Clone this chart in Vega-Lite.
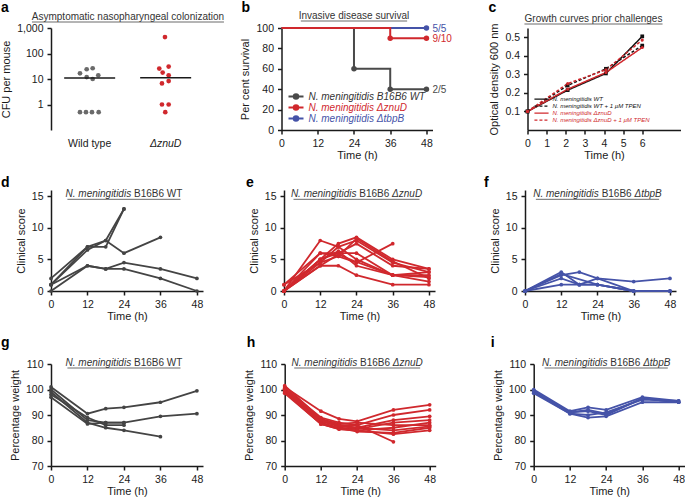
{
"$schema": "https://vega.github.io/schema/vega-lite/v6.json",
"padding": {"left": 0, "top": 1, "right": 2, "bottom": 0},
"config": {
  "font": "Liberation Sans",
  "view": {"stroke": null},
  "axis": {"grid": false, "tickCount": 20, "labelOverlap": false, "labelFlush": false, "domainColor": "#1a1a1a", "tickColor": "#1a1a1a", "domainWidth": 1.5, "tickWidth": 1.5, "tickSize": 4, "labelColor": "#1a1a1a", "titleColor": "#1a1a1a", "labelFontSize": 10.5, "titleFontSize": 11, "titleFontWeight": "normal", "labelPadding": 4},
  "axisX": {"titlePadding": 1},
  "axisY": {"titlePadding": 5},
  "legend": {"labelFontSize": 10}
},
"datasets": {
  "colonization": [
    {"group":"Wild type","cfu":16.7,"jitter":-9.7},
    {"group":"Wild type","cfu":24.1,"jitter":-3},
    {"group":"Wild type","cfu":26.4,"jitter":3},
    {"group":"Wild type","cfu":11.9,"jitter":-3},
    {"group":"Wild type","cfu":10,"jitter":3},
    {"group":"Wild type","cfu":14,"jitter":8.6},
    {"group":"Wild type","cfu":0.5,"jitter":-9.7},
    {"group":"Wild type","cfu":0.5,"jitter":-3.7},
    {"group":"Wild type","cfu":0.5,"jitter":2.3},
    {"group":"Wild type","cfu":0.5,"jitter":9},
    {"group":"ΔznuD","cfu":442,"jitter":-0.7},
    {"group":"ΔznuD","cfu":30.8,"jitter":3},
    {"group":"ΔznuD","cfu":25.7,"jitter":-6.4},
    {"group":"ΔznuD","cfu":17.8,"jitter":-3},
    {"group":"ΔznuD","cfu":14,"jitter":3},
    {"group":"ΔznuD","cfu":8.3,"jitter":3},
    {"group":"ΔznuD","cfu":6.7,"jitter":-3.7},
    {"group":"ΔznuD","cfu":1,"jitter":-3.7},
    {"group":"ΔznuD","cfu":1,"jitter":3},
    {"group":"ΔznuD","cfu":0.5,"jitter":-0.4}
  ],
  "survival": [
    {"strain":"N. meningitidis ΔtbpB","time":0,"pct":100},
    {"strain":"N. meningitidis ΔtbpB","time":48,"pct":100,"label":"5/5"},
    {"strain":"N. meningitidis B16B6 WT","time":0,"pct":100},
    {"strain":"N. meningitidis B16B6 WT","time":24,"pct":60},
    {"strain":"N. meningitidis B16B6 WT","time":36,"pct":40},
    {"strain":"N. meningitidis B16B6 WT","time":48,"pct":40,"label":"2/5"},
    {"strain":"N. meningitidis ΔznuD","time":0,"pct":100},
    {"strain":"N. meningitidis ΔznuD","time":36,"pct":90},
    {"strain":"N. meningitidis ΔznuD","time":48,"pct":90,"label":"9/10"}
  ],
  "growth": [
    {"series":"N. meningitidis WT","time":0,"od":0.1},
    {"series":"N. meningitidis WT","time":2.1,"od":0.215},
    {"series":"N. meningitidis WT","time":4.1,"od":0.305},
    {"series":"N. meningitidis WT","time":6.0,"od":0.505},
    {"series":"N. meningitidis WT + 1 µM TPEN","time":0,"od":0.1},
    {"series":"N. meningitidis WT + 1 µM TPEN","time":2.1,"od":0.24},
    {"series":"N. meningitidis WT + 1 µM TPEN","time":4.1,"od":0.33},
    {"series":"N. meningitidis WT + 1 µM TPEN","time":6.0,"od":0.455},
    {"series":"N. meningitidis ΔznuD","time":0,"od":0.1},
    {"series":"N. meningitidis ΔznuD","time":2.1,"od":0.22},
    {"series":"N. meningitidis ΔznuD","time":4.1,"od":0.31},
    {"series":"N. meningitidis ΔznuD","time":6.0,"od":0.445},
    {"series":"N. meningitidis ΔznuD + 1 µM TPEN","time":0,"od":0.1},
    {"series":"N. meningitidis ΔznuD + 1 µM TPEN","time":2.1,"od":0.25},
    {"series":"N. meningitidis ΔznuD + 1 µM TPEN","time":4.1,"od":0.325},
    {"series":"N. meningitidis ΔznuD + 1 µM TPEN","time":6.0,"od":0.485}
  ],
  "clinical": [
    {"strain":"WT","mouse":1,"time":0,"score":2},{"strain":"WT","mouse":1,"time":12,"score":7},{"strain":"WT","mouse":1,"time":18,"score":8},{"strain":"WT","mouse":1,"time":24,"score":13},
    {"strain":"WT","mouse":2,"time":0,"score":1},{"strain":"WT","mouse":2,"time":12,"score":7},{"strain":"WT","mouse":2,"time":18,"score":7},{"strain":"WT","mouse":2,"time":24,"score":13},
    {"strain":"WT","mouse":3,"time":0,"score":1},{"strain":"WT","mouse":3,"time":12,"score":6.5},{"strain":"WT","mouse":3,"time":18,"score":8},{"strain":"WT","mouse":3,"time":24,"score":6},{"strain":"WT","mouse":3,"time":36,"score":8.5},
    {"strain":"WT","mouse":4,"time":0,"score":1},{"strain":"WT","mouse":4,"time":12,"score":4},{"strain":"WT","mouse":4,"time":18,"score":3.5},{"strain":"WT","mouse":4,"time":24,"score":4.5},{"strain":"WT","mouse":4,"time":36,"score":3.5},{"strain":"WT","mouse":4,"time":48,"score":2},
    {"strain":"WT","mouse":5,"time":0,"score":0},{"strain":"WT","mouse":5,"time":12,"score":4},{"strain":"WT","mouse":5,"time":18,"score":3.5},{"strain":"WT","mouse":5,"time":24,"score":3.5},{"strain":"WT","mouse":5,"time":36,"score":2},{"strain":"WT","mouse":5,"time":48,"score":0},
    {"strain":"znuD","mouse":1,"time":0,"score":0},{"strain":"znuD","mouse":1,"time":12,"score":8},{"strain":"znuD","mouse":1,"time":18,"score":7},{"strain":"znuD","mouse":1,"time":24,"score":5},{"strain":"znuD","mouse":1,"time":36,"score":2.5},{"strain":"znuD","mouse":1,"time":48,"score":2.5},
    {"strain":"znuD","mouse":2,"time":0,"score":1},{"strain":"znuD","mouse":2,"time":12,"score":6},{"strain":"znuD","mouse":2,"time":18,"score":6},{"strain":"znuD","mouse":2,"time":24,"score":6},{"strain":"znuD","mouse":2,"time":36,"score":2.5},{"strain":"znuD","mouse":2,"time":48,"score":3},
    {"strain":"znuD","mouse":3,"time":0,"score":0},{"strain":"znuD","mouse":3,"time":12,"score":4},{"strain":"znuD","mouse":3,"time":18,"score":4},{"strain":"znuD","mouse":3,"time":24,"score":2.5},{"strain":"znuD","mouse":3,"time":36,"score":1},{"strain":"znuD","mouse":3,"time":48,"score":1},
    {"strain":"znuD","mouse":4,"time":0,"score":0},{"strain":"znuD","mouse":4,"time":12,"score":5},{"strain":"znuD","mouse":4,"time":18,"score":7.5},{"strain":"znuD","mouse":4,"time":24,"score":8.5},{"strain":"znuD","mouse":4,"time":36,"score":5},{"strain":"znuD","mouse":4,"time":48,"score":3.5},
    {"strain":"znuD","mouse":5,"time":0,"score":0},{"strain":"znuD","mouse":5,"time":12,"score":4.5},{"strain":"znuD","mouse":5,"time":18,"score":7},{"strain":"znuD","mouse":5,"time":24,"score":8},{"strain":"znuD","mouse":5,"time":36,"score":4.5},{"strain":"znuD","mouse":5,"time":48,"score":3},
    {"strain":"znuD","mouse":6,"time":0,"score":0},{"strain":"znuD","mouse":6,"time":12,"score":5},{"strain":"znuD","mouse":6,"time":18,"score":6},{"strain":"znuD","mouse":6,"time":24,"score":7.5},{"strain":"znuD","mouse":6,"time":36,"score":4},{"strain":"znuD","mouse":6,"time":48,"score":3.5},
    {"strain":"znuD","mouse":7,"time":0,"score":1},{"strain":"znuD","mouse":7,"time":12,"score":4.5},{"strain":"znuD","mouse":7,"time":18,"score":5.5},{"strain":"znuD","mouse":7,"time":24,"score":8.3},{"strain":"znuD","mouse":7,"time":36,"score":4.7},{"strain":"znuD","mouse":7,"time":48,"score":2},
    {"strain":"znuD","mouse":8,"time":0,"score":0},{"strain":"znuD","mouse":8,"time":12,"score":6},{"strain":"znuD","mouse":8,"time":18,"score":5.5},{"strain":"znuD","mouse":8,"time":24,"score":4.5},{"strain":"znuD","mouse":8,"time":36,"score":7.5},
    {"strain":"znuD","mouse":9,"time":0,"score":0},{"strain":"znuD","mouse":9,"time":12,"score":5},{"strain":"znuD","mouse":9,"time":18,"score":6.3},{"strain":"znuD","mouse":9,"time":24,"score":4},{"strain":"znuD","mouse":9,"time":36,"score":2.5},{"strain":"znuD","mouse":9,"time":48,"score":1.5},
    {"strain":"znuD","mouse":10,"time":0,"score":0},{"strain":"znuD","mouse":10,"time":12,"score":4},{"strain":"znuD","mouse":10,"time":18,"score":5.8},{"strain":"znuD","mouse":10,"time":24,"score":4.6},{"strain":"znuD","mouse":10,"time":36,"score":2.5},{"strain":"znuD","mouse":10,"time":48,"score":2.2},
    {"strain":"tbpB","mouse":1,"time":0,"score":0},{"strain":"tbpB","mouse":1,"time":12,"score":2.5},{"strain":"tbpB","mouse":1,"time":18,"score":3},{"strain":"tbpB","mouse":1,"time":24,"score":2},{"strain":"tbpB","mouse":1,"time":36,"score":0},{"strain":"tbpB","mouse":1,"time":48,"score":0},
    {"strain":"tbpB","mouse":2,"time":0,"score":0},{"strain":"tbpB","mouse":2,"time":12,"score":3},{"strain":"tbpB","mouse":2,"time":18,"score":1},{"strain":"tbpB","mouse":2,"time":24,"score":2},{"strain":"tbpB","mouse":2,"time":36,"score":1.5},{"strain":"tbpB","mouse":2,"time":48,"score":2},
    {"strain":"tbpB","mouse":3,"time":0,"score":0},{"strain":"tbpB","mouse":3,"time":12,"score":2},{"strain":"tbpB","mouse":3,"time":18,"score":1},{"strain":"tbpB","mouse":3,"time":24,"score":1},{"strain":"tbpB","mouse":3,"time":36,"score":0},{"strain":"tbpB","mouse":3,"time":48,"score":0},
    {"strain":"tbpB","mouse":4,"time":0,"score":0},{"strain":"tbpB","mouse":4,"time":12,"score":1},{"strain":"tbpB","mouse":4,"time":18,"score":1},{"strain":"tbpB","mouse":4,"time":24,"score":1},{"strain":"tbpB","mouse":4,"time":36,"score":0},{"strain":"tbpB","mouse":4,"time":48,"score":0},
    {"strain":"tbpB","mouse":5,"time":0,"score":0},{"strain":"tbpB","mouse":5,"time":12,"score":2.7},{"strain":"tbpB","mouse":5,"time":24,"score":1},{"strain":"tbpB","mouse":5,"time":36,"score":0},{"strain":"tbpB","mouse":5,"time":48,"score":0}
  ],
  "weight": [
    {"strain":"WT","mouse":1,"time":0,"weight":101},{"strain":"WT","mouse":1,"time":12,"weight":90.5},{"strain":"WT","mouse":1,"time":18,"weight":92.5},{"strain":"WT","mouse":1,"time":24,"weight":93},{"strain":"WT","mouse":1,"time":36,"weight":95},{"strain":"WT","mouse":1,"time":48,"weight":99.5},
    {"strain":"WT","mouse":2,"time":0,"weight":100},{"strain":"WT","mouse":2,"time":12,"weight":88},{"strain":"WT","mouse":2,"time":18,"weight":87},{"strain":"WT","mouse":2,"time":24,"weight":87},{"strain":"WT","mouse":2,"time":36,"weight":89.5},{"strain":"WT","mouse":2,"time":48,"weight":90.5},
    {"strain":"WT","mouse":3,"time":0,"weight":99},{"strain":"WT","mouse":3,"time":12,"weight":87},{"strain":"WT","mouse":3,"time":18,"weight":85},{"strain":"WT","mouse":3,"time":24,"weight":84},{"strain":"WT","mouse":3,"time":36,"weight":81.5},
    {"strain":"WT","mouse":4,"time":0,"weight":98},{"strain":"WT","mouse":4,"time":12,"weight":89},{"strain":"WT","mouse":4,"time":18,"weight":86},{"strain":"WT","mouse":4,"time":24,"weight":86},
    {"strain":"WT","mouse":5,"time":0,"weight":97},{"strain":"WT","mouse":5,"time":12,"weight":86.5},{"strain":"WT","mouse":5,"time":18,"weight":87},{"strain":"WT","mouse":5,"time":24,"weight":87},
    {"strain":"znuD","mouse":1,"time":0,"weight":101},{"strain":"znuD","mouse":1,"time":12,"weight":91.5},{"strain":"znuD","mouse":1,"time":18,"weight":88.5},{"strain":"znuD","mouse":1,"time":24,"weight":87.5},{"strain":"znuD","mouse":1,"time":36,"weight":92},{"strain":"znuD","mouse":1,"time":48,"weight":94},
    {"strain":"znuD","mouse":2,"time":0,"weight":100.5},{"strain":"znuD","mouse":2,"time":12,"weight":89},{"strain":"znuD","mouse":2,"time":18,"weight":87},{"strain":"znuD","mouse":2,"time":24,"weight":86},{"strain":"znuD","mouse":2,"time":36,"weight":90},{"strain":"znuD","mouse":2,"time":48,"weight":92},
    {"strain":"znuD","mouse":3,"time":0,"weight":100},{"strain":"znuD","mouse":3,"time":12,"weight":88},{"strain":"znuD","mouse":3,"time":18,"weight":86},{"strain":"znuD","mouse":3,"time":24,"weight":85},{"strain":"znuD","mouse":3,"time":36,"weight":88},{"strain":"znuD","mouse":3,"time":48,"weight":89.5},
    {"strain":"znuD","mouse":4,"time":0,"weight":99.5},{"strain":"znuD","mouse":4,"time":12,"weight":87},{"strain":"znuD","mouse":4,"time":18,"weight":85},{"strain":"znuD","mouse":4,"time":24,"weight":84.5},{"strain":"znuD","mouse":4,"time":36,"weight":87},{"strain":"znuD","mouse":4,"time":48,"weight":88},
    {"strain":"znuD","mouse":5,"time":0,"weight":99},{"strain":"znuD","mouse":5,"time":12,"weight":86.5},{"strain":"znuD","mouse":5,"time":18,"weight":84.5},{"strain":"znuD","mouse":5,"time":24,"weight":84},{"strain":"znuD","mouse":5,"time":36,"weight":85},{"strain":"znuD","mouse":5,"time":48,"weight":87},
    {"strain":"znuD","mouse":6,"time":0,"weight":101.5},{"strain":"znuD","mouse":6,"time":12,"weight":88.5},{"strain":"znuD","mouse":6,"time":18,"weight":86.5},{"strain":"znuD","mouse":6,"time":24,"weight":87},{"strain":"znuD","mouse":6,"time":36,"weight":86},{"strain":"znuD","mouse":6,"time":48,"weight":86},
    {"strain":"znuD","mouse":7,"time":0,"weight":100},{"strain":"znuD","mouse":7,"time":12,"weight":87.5},{"strain":"znuD","mouse":7,"time":18,"weight":85.5},{"strain":"znuD","mouse":7,"time":24,"weight":85},{"strain":"znuD","mouse":7,"time":36,"weight":84},{"strain":"znuD","mouse":7,"time":48,"weight":85.5},
    {"strain":"znuD","mouse":8,"time":0,"weight":99},{"strain":"znuD","mouse":8,"time":12,"weight":86.5},{"strain":"znuD","mouse":8,"time":18,"weight":85},{"strain":"znuD","mouse":8,"time":24,"weight":83.5},{"strain":"znuD","mouse":8,"time":36,"weight":83},{"strain":"znuD","mouse":8,"time":48,"weight":85},
    {"strain":"znuD","mouse":9,"time":0,"weight":98.5},{"strain":"znuD","mouse":9,"time":12,"weight":86.5},{"strain":"znuD","mouse":9,"time":18,"weight":84.5},{"strain":"znuD","mouse":9,"time":24,"weight":84},{"strain":"znuD","mouse":9,"time":36,"weight":82.5},{"strain":"znuD","mouse":9,"time":48,"weight":84},
    {"strain":"znuD","mouse":10,"time":0,"weight":100},{"strain":"znuD","mouse":10,"time":12,"weight":88},{"strain":"znuD","mouse":10,"time":18,"weight":86},{"strain":"znuD","mouse":10,"time":24,"weight":86},{"strain":"znuD","mouse":10,"time":36,"weight":79.5},
    {"strain":"tbpB","mouse":1,"time":0,"weight":100},{"strain":"tbpB","mouse":1,"time":12,"weight":91.5},{"strain":"tbpB","mouse":1,"time":18,"weight":93},{"strain":"tbpB","mouse":1,"time":24,"weight":92},{"strain":"tbpB","mouse":1,"time":36,"weight":97},{"strain":"tbpB","mouse":1,"time":48,"weight":95.5},
    {"strain":"tbpB","mouse":2,"time":0,"weight":99.5},{"strain":"tbpB","mouse":2,"time":12,"weight":91},{"strain":"tbpB","mouse":2,"time":18,"weight":91.5},{"strain":"tbpB","mouse":2,"time":24,"weight":90},{"strain":"tbpB","mouse":2,"time":36,"weight":96.5},{"strain":"tbpB","mouse":2,"time":48,"weight":95},
    {"strain":"tbpB","mouse":3,"time":0,"weight":99},{"strain":"tbpB","mouse":3,"time":12,"weight":90.5},{"strain":"tbpB","mouse":3,"time":18,"weight":90},{"strain":"tbpB","mouse":3,"time":24,"weight":91},{"strain":"tbpB","mouse":3,"time":36,"weight":96},{"strain":"tbpB","mouse":3,"time":48,"weight":95.5},
    {"strain":"tbpB","mouse":4,"time":0,"weight":98.5},{"strain":"tbpB","mouse":4,"time":12,"weight":90.5},{"strain":"tbpB","mouse":4,"time":18,"weight":89},{"strain":"tbpB","mouse":4,"time":24,"weight":89.5},{"strain":"tbpB","mouse":4,"time":36,"weight":95},{"strain":"tbpB","mouse":4,"time":48,"weight":95},
    {"strain":"tbpB","mouse":5,"time":0,"weight":99.5},{"strain":"tbpB","mouse":5,"time":12,"weight":91},{"strain":"tbpB","mouse":5,"time":18,"weight":92},{"strain":"tbpB","mouse":5,"time":24,"weight":90.5},{"strain":"tbpB","mouse":5,"time":36,"weight":96.5},{"strain":"tbpB","mouse":5,"time":48,"weight":95}
  ]
},
"spacing": 14,
"resolve": {"scale": {"color": "independent", "shape": "independent", "strokeDash": "independent", "xOffset": "independent"}, "legend": {"color": "independent"}},
"vconcat": [
 {"spacing": 36.5,
  "resolve": {"scale": {"color": "independent", "shape": "independent", "strokeDash": "independent", "xOffset": "independent"}, "legend": {"color": "independent"}},
  "hconcat": [
  {"spacing": 14.5,
   "resolve": {"scale": {"color": "independent", "shape": "independent", "strokeDash": "independent", "xOffset": "independent"}, "legend": {"color": "independent"}},
   "hconcat": [
   {"width": 150, "height": 102,
    "data": {"name": "colonization"},
    "layer": [
     {"mark": {"type": "circle", "size": 22, "opacity": 1},
      "encoding": {
       "x": {"field": "group", "type": "nominal", "scale": {"type": "band", "domain": ["Wild type", "ΔznuD"], "paddingInner": 0.3, "paddingOuter": 0.137, "align": 0.58},
             "axis": {"title": null, "domain": false, "ticks": false, "labelAngle": 0, "labelPadding": 8, "labelFontStyle": {"condition": {"test": "datum.value === 'ΔznuD'", "value": "italic"}, "value": "normal"}}},
       "xOffset": {"field": "jitter", "type": "quantitative", "scale": {"domain": [-26.6, 26.6], "range": [0, 53.2]}},
       "y": {"field": "cfu", "type": "quantitative", "scale": {"type": "log", "domain": [0.1, 1000]}, "axis": {"title": "CFU per mouse", "values": [1, 10, 100, 1000], "format": ",", "tickCount": 20}},
       "color": {"field": "group", "type": "nominal", "scale": {"domain": ["Wild type", "ΔznuD"], "range": ["#6a6a6a", "#d0282d"]}, "legend": null}
      }},
     {"mark": {"type": "tick", "size": 51, "thickness": 1.5, "color": "#1a1a1a"},
      "encoding": {"x": {"field": "group", "type": "nominal"}, "y": {"field": "cfu", "type": "quantitative", "aggregate": "median"}}},
     {"data": {"values": [{"t": "a"}]},
      "mark": {"type": "text", "align": "left", "baseline": "top", "fontSize": 14, "fontWeight": "bold", "color": "#000000", "dx": -88.7, "dy": -27},
      "encoding": {"x": {"datum": "Wild type"}, "y": {"datum": 1000}, "text": {"field": "t"}}},
     {"data": {"values": [{"t": "Asymptomatic nasopharyngeal colonization"}]},
      "mark": {"type": "text", "align": "center", "baseline": "alphabetic", "fontSize": 10, "color": "#333333", "dx": 38.3, "dy": -8},
      "encoding": {"x": {"datum": "Wild type"}, "y": {"datum": 1000}, "text": {"field": "t"}}},
     {"data": {"values": [{"u": 1}]},
      "mark": {"type": "rule", "color": "#444444", "strokeWidth": 0.8, "yOffset": -6, "xOffset": -57.7, "x2Offset": 58.3},
      "encoding": {"x": {"datum": "Wild type"}, "x2": {"datum": "ΔznuD"}, "y": {"datum": 1000}}}
    ]},
   {"width": 151, "height": 102,
    "data": {"name": "survival"},
    "layer": [
     {"mark": {"type": "line", "interpolate": "step-after", "strokeWidth": 2},
      "encoding": {
       "x": {"field": "time", "type": "quantitative", "scale": {"domain": [0, 48]}, "axis": {"title": "Time (h)", "values": [0, 12, 24, 36, 48], "tickCount": 20}},
       "y": {"field": "pct", "type": "quantitative", "scale": {"domain": [0, 100]}, "axis": {"title": "Per cent survival", "values": [0, 20, 40, 60, 80, 100], "tickCount": 20}},
       "color": {"field": "strain", "type": "nominal",
         "scale": {"domain": ["N. meningitidis B16B6 WT", "N. meningitidis ΔznuD", "N. meningitidis ΔtbpB"], "range": ["#4a4a4a", "#d0282d", "#4553a8"]},
         "legend": {"title": null, "orient": "bottom-left", "offset": 6, "padding": 0, "labelFontStyle": "italic", "labelFontSize": 10, "rowPadding": 0, "labelOffset": 4,
           "symbolType": "M-1,0L1,0M-0.3,0A0.3,0.3,0,1,1,0.3,0A0.3,0.3,0,1,1,-0.3,0Z", "symbolSize": 225, "symbolStrokeWidth": 2, "clipHeight": 11,
           "encode": {
             "labels": {"update": {"fill": [{"test": "datum.value === 'N. meningitidis ΔznuD'", "value": "#d0282d"}, {"test": "datum.value === 'N. meningitidis ΔtbpB'", "value": "#4553a8"}, {"value": "#333333"}]}},
             "symbols": {"update": {"fill": [{"test": "datum.value === 'N. meningitidis ΔznuD'", "value": "#d0282d"}, {"test": "datum.value === 'N. meningitidis ΔtbpB'", "value": "#4553a8"}, {"value": "#4a4a4a"}],
                                    "stroke": [{"test": "datum.value === 'N. meningitidis ΔznuD'", "value": "#d0282d"}, {"test": "datum.value === 'N. meningitidis ΔtbpB'", "value": "#4553a8"}, {"value": "#4a4a4a"}]}}
           }}}
      }},
     {"transform": [{"filter": "datum.time > 0"}],
      "mark": {"type": "circle", "size": 30, "opacity": 1},
      "encoding": {"x": {"field": "time", "type": "quantitative"}, "y": {"field": "pct", "type": "quantitative"}, "color": {"field": "strain", "type": "nominal"}}},
     {"transform": [{"filter": "datum.label"}],
      "mark": {"type": "text", "align": "left", "baseline": "middle", "dx": 6, "dy": 1, "fontSize": 10},
      "encoding": {"x": {"field": "time", "type": "quantitative"}, "y": {"field": "pct", "type": "quantitative"}, "text": {"field": "label"}, "color": {"field": "strain", "type": "nominal"}}},
     {"data": {"values": [{"t": "b"}]},
      "mark": {"type": "text", "align": "left", "baseline": "top", "fontSize": 14, "fontWeight": "bold", "color": "#000000", "dx": -40, "dy": -27},
      "encoding": {"x": {"datum": 0}, "y": {"datum": 100}, "text": {"field": "t"}}},
     {"data": {"values": [{"t": "Invasive disease survival"}]},
      "mark": {"type": "text", "align": "center", "baseline": "alphabetic", "fontSize": 10, "color": "#333333", "dy": -9},
      "encoding": {"x": {"datum": 24}, "y": {"datum": 100}, "text": {"field": "t"}}},
     {"data": {"values": [{"u": 1}]},
      "mark": {"type": "rule", "color": "#444444", "strokeWidth": 0.8, "yOffset": -7},
      "encoding": {"x": {"datum": 6.4}, "x2": {"datum": 41.6}, "y": {"datum": 100}}}
    ]}
  ]},
  {"width": 153, "height": 102,
   "data": {"name": "growth"},
   "layer": [
    {"mark": {"type": "line", "strokeWidth": 1.5},
     "encoding": {
      "x": {"field": "time", "type": "quantitative", "scale": {"domain": [0, 8]}, "axis": {"title": "Time (h)", "values": [0, 1, 2, 3, 4, 5, 6], "format": "d", "tickCount": 20}},
      "y": {"field": "od", "type": "quantitative", "scale": {"domain": [0, 0.55]}, "axis": {"title": "Optical density 600 nm", "values": [0.1, 0.2, 0.3, 0.4, 0.5], "format": ".1f", "tickCount": 20}},
      "color": {"field": "series", "type": "nominal",
        "scale": {"domain": ["N. meningitidis WT", "N. meningitidis WT + 1 µM TPEN", "N. meningitidis ΔznuD", "N. meningitidis ΔznuD + 1 µM TPEN"], "range": ["#111111", "#111111", "#d0282d", "#d0282d"]},
        "legend": {"title": null, "orient": "bottom-left", "offset": 6, "padding": 0, "labelFontStyle": "italic", "labelFontSize": 6, "rowPadding": 0, "labelOffset": 3, "symbolType": "stroke", "symbolSize": 200, "symbolStrokeWidth": 1.3, "clipHeight": 6.3,
          "encode": {
            "labels": {"update": {"fill": [{"test": "indexof(datum.value, 'Δ') >= 0", "value": "#d0282d"}, {"value": "#111111"}]}},
            "symbols": {"update": {"shape": {"value": "stroke"}, "fill": {"value": "transparent"},
                                   "stroke": [{"test": "indexof(datum.value, 'Δ') >= 0", "value": "#d0282d"}, {"value": "#111111"}],
                                   "strokeDash": [{"test": "indexof(datum.value, 'TPEN') >= 0", "value": [2, 1]}, {"value": [1, 0]}]}}
          }}},
      "strokeDash": {"field": "series", "type": "nominal", "scale": {"domain": ["N. meningitidis WT", "N. meningitidis WT + 1 µM TPEN", "N. meningitidis ΔznuD", "N. meningitidis ΔznuD + 1 µM TPEN"], "range": [[1, 0], [3, 2], [1, 0], [3, 2]]}, "legend": null}
     }},
    {"transform": [{"filter": "indexof(datum.series, 'Δ') < 0"}],
     "mark": {"type": "square", "filled": true, "opacity": 1, "size": 14},
     "encoding": {
      "x": {"field": "time", "type": "quantitative"},
      "y": {"field": "od", "type": "quantitative"},
      "color": {"field": "series", "type": "nominal"}
     }},
    {"transform": [{"filter": "indexof(datum.series, 'Δ') >= 0"}],
     "mark": {"type": "circle", "opacity": 1, "size": 10},
     "encoding": {
      "x": {"field": "time", "type": "quantitative"},
      "y": {"field": "od", "type": "quantitative"},
      "color": {"field": "series", "type": "nominal"}
     }},
    {"data": {"values": [{"t": "c"}]},
     "mark": {"type": "text", "align": "left", "baseline": "top", "fontSize": 14, "fontWeight": "bold", "color": "#000000", "dx": -39, "dy": -27},
     "encoding": {"x": {"datum": 0}, "y": {"datum": 0.55}, "text": {"field": "t"}}},
    {"data": {"values": [{"t": "Growth curves prior challenges"}]},
     "mark": {"type": "text", "align": "center", "baseline": "alphabetic", "fontSize": 10, "color": "#333333", "dy": -6},
     "encoding": {"x": {"datum": 3.45}, "y": {"datum": 0.55}, "text": {"field": "t"}}},
    {"data": {"values": [{"u": 1}]},
     "mark": {"type": "rule", "color": "#444444", "strokeWidth": 0.8, "yOffset": -4},
     "encoding": {"x": {"datum": -0.16}, "x2": {"datum": 7.06}, "y": {"datum": 0.55}}}
   ]}
 ]},
 {"spacing": 49,
  "resolve": {"scale": {"color": "independent"}},
  "hconcat": [
  {"spacing": 43, "hconcat": [
   {"width": 152, "height": 101,
    "data": {"name": "clinical"},
    "layer": [
     {"transform": [{"filter": "datum.strain === 'WT'"}], "mark": {"type": "line", "strokeWidth": 1.8, "color": "#444444"},
      "encoding": {"x": {"field": "time", "type": "quantitative", "scale": {"domain": [0, 48]}, "axis": {"title": "Time (h)", "values": [0, 12, 24, 36, 48], "tickCount": 20}},
                   "y": {"field": "score", "type": "quantitative", "scale": {"domain": [0, 15]}, "axis": {"title": "Clinical score", "values": [0, 5, 10, 15], "tickCount": 20}},
                   "detail": {"field": "mouse", "type": "nominal"}}},
     {"transform": [{"filter": "datum.strain === 'WT'"}], "mark": {"type": "circle", "size": 14, "color": "#444444", "opacity": 1},
      "encoding": {"x": {"field": "time", "type": "quantitative"}, "y": {"field": "score", "type": "quantitative"}}},
     {"data": {"values": [{"t": "d"}]},
      "mark": {"type": "text", "align": "left", "baseline": "top", "fontSize": 14, "fontWeight": "bold", "color": "#000000", "dx": -50, "dy": -20.5},
      "encoding": {"x": {"datum": 0}, "y": {"datum": 15}, "text": {"field": "t"}}},
     {"data": {"values": [{"t": "N. meningitidis"}]},
      "mark": {"type": "text", "align": "right", "baseline": "alphabetic", "fontSize": 10, "fontStyle": "italic", "color": "#333333", "dx": 7.2, "dy": 1},
      "encoding": {"x": {"datum": 24}, "y": {"datum": 15}, "text": {"field": "t"}}},
     {"data": {"values": [{"t": "B16B6 WT"}]},
      "mark": {"type": "text", "align": "left", "baseline": "alphabetic", "fontSize": 10, "color": "#333333", "dx": 10, "dy": 1},
      "encoding": {"x": {"datum": 24}, "y": {"datum": 15}, "text": {"field": "t"}}},
     {"data": {"values": [{"u": 1}]},
      "mark": {"type": "rule", "color": "#444444", "strokeWidth": 0.8, "yOffset": 3},
      "encoding": {"x": {"datum": 5.4}, "x2": {"datum": 42.6}, "y": {"datum": 15}}}
    ]},
   {"width": 151, "height": 101,
    "data": {"name": "clinical"},
    "layer": [
     {"transform": [{"filter": "datum.strain === 'znuD'"}], "mark": {"type": "line", "strokeWidth": 1.8, "color": "#d0282d"},
      "encoding": {"x": {"field": "time", "type": "quantitative", "scale": {"domain": [0, 48]}, "axis": {"title": "Time (h)", "values": [0, 12, 24, 36, 48], "tickCount": 20}},
                   "y": {"field": "score", "type": "quantitative", "scale": {"domain": [0, 15]}, "axis": {"title": "Clinical score", "values": [0, 5, 10, 15], "tickCount": 20}},
                   "detail": {"field": "mouse", "type": "nominal"}}},
     {"transform": [{"filter": "datum.strain === 'znuD'"}], "mark": {"type": "circle", "size": 14, "color": "#d0282d", "opacity": 1},
      "encoding": {"x": {"field": "time", "type": "quantitative"}, "y": {"field": "score", "type": "quantitative"}}},
     {"data": {"values": [{"t": "e"}]},
      "mark": {"type": "text", "align": "left", "baseline": "top", "fontSize": 14, "fontWeight": "bold", "color": "#000000", "dx": -38, "dy": -20.5},
      "encoding": {"x": {"datum": 0}, "y": {"datum": 15}, "text": {"field": "t"}}},
     {"data": {"values": [{"t": "N. meningitidis"}]},
      "mark": {"type": "text", "align": "right", "baseline": "alphabetic", "fontSize": 10, "fontStyle": "italic", "color": "#333333", "dx": 0, "dy": 1},
      "encoding": {"x": {"datum": 24}, "y": {"datum": 15}, "text": {"field": "t"}}},
     {"data": {"values": [{"t": "B16B6"}]},
      "mark": {"type": "text", "align": "left", "baseline": "alphabetic", "fontSize": 10, "color": "#333333", "dx": 2.8, "dy": 1},
      "encoding": {"x": {"datum": 24}, "y": {"datum": 15}, "text": {"field": "t"}}},
     {"data": {"values": [{"t": "ΔznuD"}]},
      "mark": {"type": "text", "align": "left", "baseline": "alphabetic", "fontSize": 10, "fontStyle": "italic", "color": "#333333", "dx": 35.6, "dy": 1},
      "encoding": {"x": {"datum": 24}, "y": {"datum": 15}, "text": {"field": "t"}}},
     {"data": {"values": [{"u": 1}]},
      "mark": {"type": "rule", "color": "#444444", "strokeWidth": 0.8, "yOffset": 3},
      "encoding": {"x": {"datum": 3.15}, "x2": {"datum": 44.85}, "y": {"datum": 15}}}
    ]}
  ]},
  {"width": 151, "height": 101,
   "data": {"name": "clinical"},
   "layer": [
    {"transform": [{"filter": "datum.strain === 'tbpB'"}], "mark": {"type": "line", "strokeWidth": 1.8, "color": "#4553a8"},
     "encoding": {"x": {"field": "time", "type": "quantitative", "scale": {"domain": [0, 48]}, "axis": {"title": "Time (h)", "values": [0, 12, 24, 36, 48], "tickCount": 20}},
                  "y": {"field": "score", "type": "quantitative", "scale": {"domain": [0, 15]}, "axis": {"title": "Clinical score", "values": [0, 5, 10, 15], "tickCount": 20}},
                  "detail": {"field": "mouse", "type": "nominal"}}},
    {"transform": [{"filter": "datum.strain === 'tbpB'"}], "mark": {"type": "circle", "size": 14, "color": "#4553a8", "opacity": 1},
     "encoding": {"x": {"field": "time", "type": "quantitative"}, "y": {"field": "score", "type": "quantitative"}}},
    {"data": {"values": [{"t": "f"}]},
     "mark": {"type": "text", "align": "left", "baseline": "top", "fontSize": 14, "fontWeight": "bold", "color": "#000000", "dx": -41, "dy": -20.5},
     "encoding": {"x": {"datum": 0}, "y": {"datum": 15}, "text": {"field": "t"}}},
    {"data": {"values": [{"t": "N. meningitidis"}]},
     "mark": {"type": "text", "align": "right", "baseline": "alphabetic", "fontSize": 10, "fontStyle": "italic", "color": "#333333", "dx": 1.35, "dy": 1},
     "encoding": {"x": {"datum": 24}, "y": {"datum": 15}, "text": {"field": "t"}}},
    {"data": {"values": [{"t": "B16B6"}]},
     "mark": {"type": "text", "align": "left", "baseline": "alphabetic", "fontSize": 10, "color": "#333333", "dx": 4.15, "dy": 1},
     "encoding": {"x": {"datum": 24}, "y": {"datum": 15}, "text": {"field": "t"}}},
    {"data": {"values": [{"t": "ΔtbpB"}]},
     "mark": {"type": "text", "align": "left", "baseline": "alphabetic", "fontSize": 10, "fontStyle": "italic", "color": "#333333", "dx": 36.95, "dy": 1},
     "encoding": {"x": {"datum": 24}, "y": {"datum": 15}, "text": {"field": "t"}}},
    {"data": {"values": [{"u": 1}]},
     "mark": {"type": "rule", "color": "#444444", "strokeWidth": 0.8, "yOffset": 3},
     "encoding": {"x": {"datum": 3.6}, "x2": {"datum": 44.4}, "y": {"datum": 15}}}
   ]}
 ]},
 {"spacing": 54.7, "hconcat": [
  {"spacing": 39.7, "hconcat": [
   {"width": 152, "height": 102,
    "data": {"name": "weight"},
    "layer": [
     {"transform": [{"filter": "datum.strain === 'WT'"}], "mark": {"type": "line", "strokeWidth": 1.8, "color": "#444444"},
      "encoding": {"x": {"field": "time", "type": "quantitative", "scale": {"domain": [0, 48]}, "axis": {"title": "Time (h)", "values": [0, 12, 24, 36, 48], "tickCount": 20}},
                   "y": {"field": "weight", "type": "quantitative", "scale": {"domain": [70, 110]}, "axis": {"title": "Percentage weight", "values": [70, 80, 90, 100, 110], "tickCount": 20}},
                   "detail": {"field": "mouse", "type": "nominal"}}},
     {"transform": [{"filter": "datum.strain === 'WT'"}], "mark": {"type": "circle", "size": 14, "color": "#444444", "opacity": 1},
      "encoding": {"x": {"field": "time", "type": "quantitative"}, "y": {"field": "weight", "type": "quantitative"}}},
     {"data": {"values": [{"t": "g"}]},
      "mark": {"type": "text", "align": "left", "baseline": "top", "fontSize": 14, "fontWeight": "bold", "color": "#000000", "dx": -50, "dy": -28},
      "encoding": {"x": {"datum": 0}, "y": {"datum": 110}, "text": {"field": "t"}}},
     {"data": {"values": [{"t": "N. meningitidis"}]},
      "mark": {"type": "text", "align": "right", "baseline": "alphabetic", "fontSize": 10, "fontStyle": "italic", "color": "#333333", "dx": 7.2, "dy": 2},
      "encoding": {"x": {"datum": 24}, "y": {"datum": 110}, "text": {"field": "t"}}},
     {"data": {"values": [{"t": "B16B6 WT"}]},
      "mark": {"type": "text", "align": "left", "baseline": "alphabetic", "fontSize": 10, "color": "#333333", "dx": 10, "dy": 2},
      "encoding": {"x": {"datum": 24}, "y": {"datum": 110}, "text": {"field": "t"}}},
     {"data": {"values": [{"u": 1}]},
      "mark": {"type": "rule", "color": "#444444", "strokeWidth": 0.8, "yOffset": 4},
      "encoding": {"x": {"datum": 5.4}, "x2": {"datum": 42.6}, "y": {"datum": 110}}}
    ]},
   {"width": 151, "height": 102,
    "data": {"name": "weight"},
    "layer": [
     {"transform": [{"filter": "datum.strain === 'znuD'"}], "mark": {"type": "line", "strokeWidth": 1.8, "color": "#d0282d"},
      "encoding": {"x": {"field": "time", "type": "quantitative", "scale": {"domain": [0, 48]}, "axis": {"title": "Time (h)", "values": [0, 12, 24, 36, 48], "tickCount": 20}},
                   "y": {"field": "weight", "type": "quantitative", "scale": {"domain": [70, 110]}, "axis": {"title": "Percentage weight", "values": [70, 80, 90, 100, 110], "tickCount": 20}},
                   "detail": {"field": "mouse", "type": "nominal"}}},
     {"transform": [{"filter": "datum.strain === 'znuD'"}], "mark": {"type": "circle", "size": 14, "color": "#d0282d", "opacity": 1},
      "encoding": {"x": {"field": "time", "type": "quantitative"}, "y": {"field": "weight", "type": "quantitative"}}},
     {"data": {"values": [{"t": "h"}]},
      "mark": {"type": "text", "align": "left", "baseline": "top", "fontSize": 14, "fontWeight": "bold", "color": "#000000", "dx": -38, "dy": -28},
      "encoding": {"x": {"datum": 0}, "y": {"datum": 110}, "text": {"field": "t"}}},
     {"data": {"values": [{"t": "N. meningitidis"}]},
      "mark": {"type": "text", "align": "right", "baseline": "alphabetic", "fontSize": 10, "fontStyle": "italic", "color": "#333333", "dx": 0, "dy": 2},
      "encoding": {"x": {"datum": 24}, "y": {"datum": 110}, "text": {"field": "t"}}},
     {"data": {"values": [{"t": "B16B6"}]},
      "mark": {"type": "text", "align": "left", "baseline": "alphabetic", "fontSize": 10, "color": "#333333", "dx": 2.8, "dy": 2},
      "encoding": {"x": {"datum": 24}, "y": {"datum": 110}, "text": {"field": "t"}}},
     {"data": {"values": [{"t": "ΔznuD"}]},
      "mark": {"type": "text", "align": "left", "baseline": "alphabetic", "fontSize": 10, "fontStyle": "italic", "color": "#333333", "dx": 35.6, "dy": 2},
      "encoding": {"x": {"datum": 24}, "y": {"datum": 110}, "text": {"field": "t"}}},
     {"data": {"values": [{"u": 1}]},
      "mark": {"type": "rule", "color": "#444444", "strokeWidth": 0.8, "yOffset": 4},
      "encoding": {"x": {"datum": 3.15}, "x2": {"datum": 44.85}, "y": {"datum": 110}}}
    ]}
  ]},
  {"width": 151, "height": 102,
   "data": {"name": "weight"},
   "layer": [
    {"transform": [{"filter": "datum.strain === 'tbpB'"}], "mark": {"type": "line", "strokeWidth": 1.8, "color": "#4553a8"},
     "encoding": {"x": {"field": "time", "type": "quantitative", "scale": {"domain": [0, 48]}, "axis": {"title": "Time (h)", "values": [0, 12, 24, 36, 48], "tickCount": 20}},
                  "y": {"field": "weight", "type": "quantitative", "scale": {"domain": [70, 110]}, "axis": {"title": "Percentage weight", "values": [70, 80, 90, 100, 110], "tickCount": 20}},
                  "detail": {"field": "mouse", "type": "nominal"}}},
    {"transform": [{"filter": "datum.strain === 'tbpB'"}], "mark": {"type": "circle", "size": 14, "color": "#4553a8", "opacity": 1},
     "encoding": {"x": {"field": "time", "type": "quantitative"}, "y": {"field": "weight", "type": "quantitative"}}},
    {"data": {"values": [{"t": "i"}]},
     "mark": {"type": "text", "align": "left", "baseline": "top", "fontSize": 14, "fontWeight": "bold", "color": "#000000", "dx": -43, "dy": -28},
     "encoding": {"x": {"datum": 0}, "y": {"datum": 110}, "text": {"field": "t"}}},
    {"data": {"values": [{"t": "N. meningitidis"}]},
     "mark": {"type": "text", "align": "right", "baseline": "alphabetic", "fontSize": 10, "fontStyle": "italic", "color": "#333333", "dx": 1.35, "dy": 2},
     "encoding": {"x": {"datum": 24}, "y": {"datum": 110}, "text": {"field": "t"}}},
    {"data": {"values": [{"t": "B16B6"}]},
     "mark": {"type": "text", "align": "left", "baseline": "alphabetic", "fontSize": 10, "color": "#333333", "dx": 4.15, "dy": 2},
     "encoding": {"x": {"datum": 24}, "y": {"datum": 110}, "text": {"field": "t"}}},
    {"data": {"values": [{"t": "ΔtbpB"}]},
     "mark": {"type": "text", "align": "left", "baseline": "alphabetic", "fontSize": 10, "fontStyle": "italic", "color": "#333333", "dx": 36.95, "dy": 2},
     "encoding": {"x": {"datum": 24}, "y": {"datum": 110}, "text": {"field": "t"}}},
    {"data": {"values": [{"u": 1}]},
     "mark": {"type": "rule", "color": "#444444", "strokeWidth": 0.8, "yOffset": 4},
     "encoding": {"x": {"datum": 3.6}, "x2": {"datum": 44.4}, "y": {"datum": 110}}}
   ]}
 ]}
]
}
